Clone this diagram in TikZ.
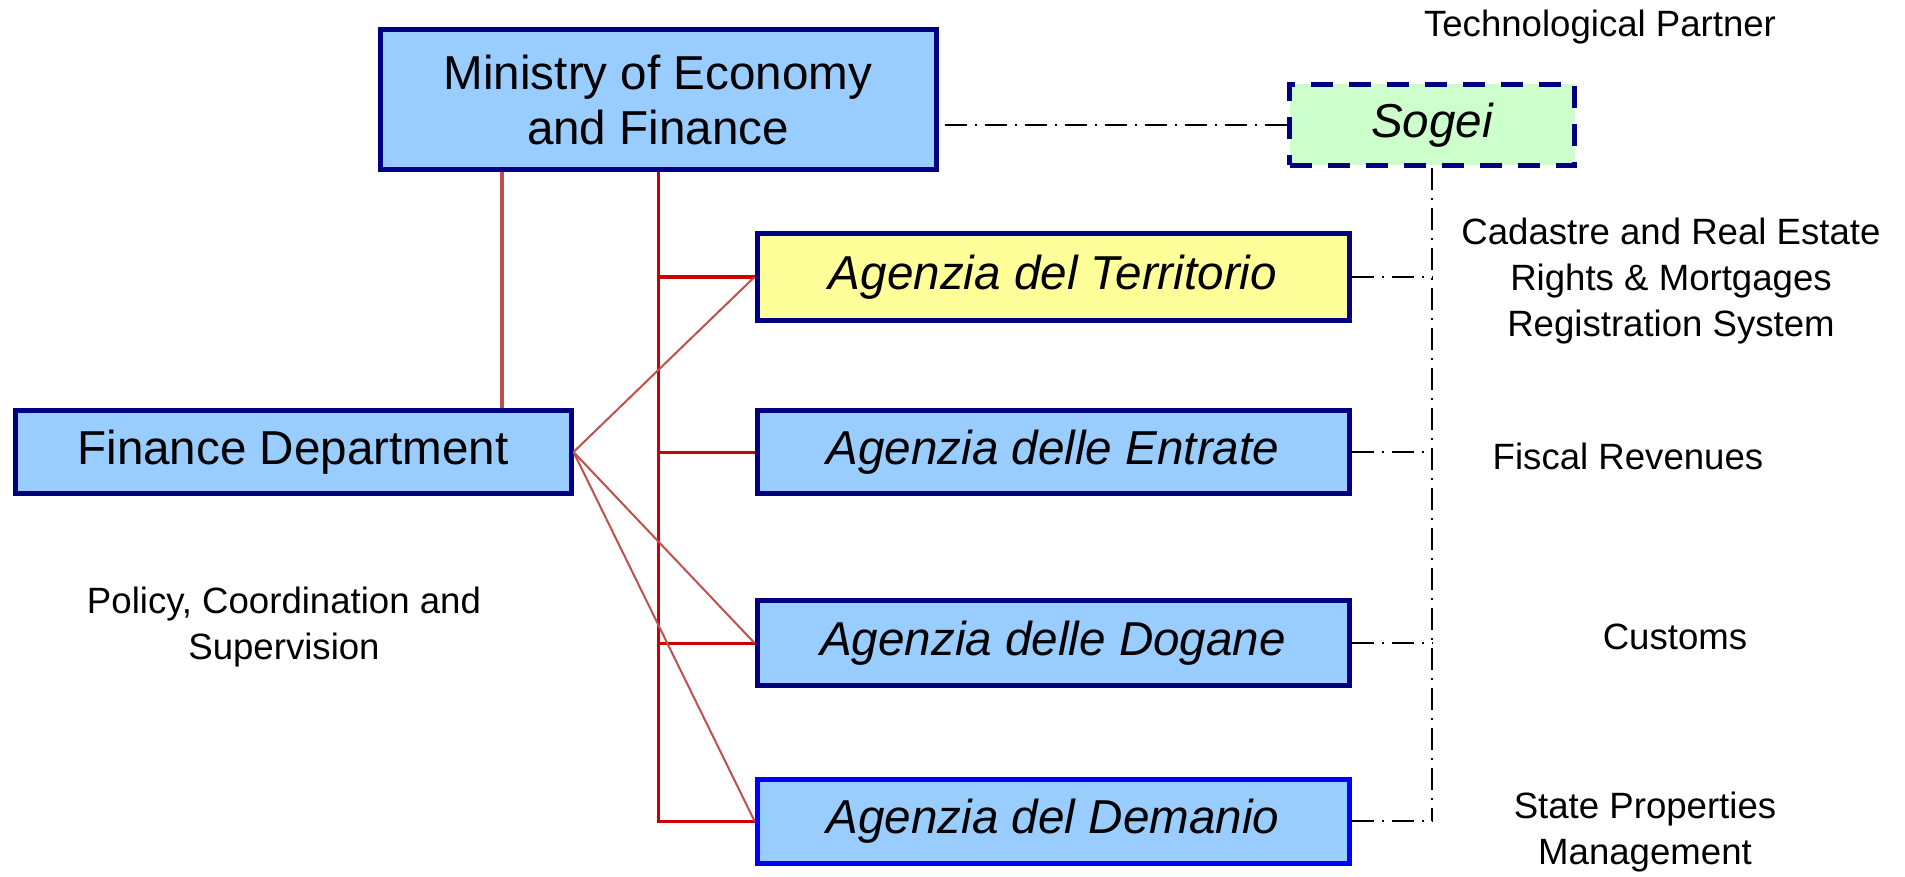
\documentclass[tikz,border=0pt]{standalone}
\usepackage{fontspec}
\setmainfont{Liberation Sans}
\definecolor{boxblue}{HTML}{99CCFF}
\definecolor{navy}{HTML}{000080}
\definecolor{sogfill}{HTML}{CCFFCC}
\definecolor{terfill}{HTML}{FFFF99}
\definecolor{brred}{HTML}{C0504D}
\definecolor{redline}{HTML}{CC0000}
\tikzset{
  orgbox/.style={draw=navy, line width=2.5pt, fill=boxblue, rectangle, inner sep=0pt,
     font=\fontsize{23.8}{27.3}\selectfont, align=center},
  agbox/.style={orgbox, minimum width=296pt, font=\fontsize{23.8}{27.3}\selectfont\itshape},
  lbl/.style={font=\fontsize{18.3}{23}\selectfont, align=center, inner sep=0pt},
  techline/.style={black, line width=1pt, dash pattern=on 11pt off 4pt on 1pt off 4pt},
  diag/.style={brred, line width=1pt},
  redv/.style={redline, line width=1.5pt}
}
\begin{document}
\begin{tikzpicture}[x=0.5pt, y=-0.5pt]
\useasboundingbox (0,0) rectangle (1905,877);
\node[orgbox, minimum width=278pt, minimum height=70pt] (min) at (658,100) {Ministry of Economy\\and Finance};
\node[orgbox, fill=sogfill, dash pattern=on 11pt off 8pt, minimum width=142.5pt, minimum height=40.5pt,
      font=\fontsize{23.8}{27.3}\selectfont\itshape] (sog) at (1432,125) {Sogei};
\node[orgbox, minimum width=278pt, minimum height=41.5pt] (fin) at (293,452) {Finance Department};
\node[agbox, fill=terfill, minimum height=43pt] (ter) at (1053,277) {Agenzia del Territorio};
\node[agbox, minimum height=41.5pt] (ent) at (1053,452) {Agenzia delle Entrate};
\node[agbox, minimum height=42.5pt] (dog) at (1053,643) {Agenzia delle Dogane};
\node[agbox, draw=blue, minimum height=42pt] (dem) at (1053,821) {Agenzia del Demanio};

\node[lbl] (tp) at (1600,27) {Technological Partner};
\node[lbl] (cad) at (1671,281) {Cadastre and Real Estate\\Rights \& Mortgages\\Registration System};
\node[lbl] (fis) at (1628,456) {Fiscal Revenues};
\node[lbl] (cus) at (1675,637) {Customs};
\node[lbl] (spm) at (1645,832) {State Properties\\Management};
\node[lbl] (pol) at (284,627) {Policy, Coordination and\\Supervision};

\coordinate (v1) at (502,0);
\begin{scope}[on background layer/.try]
\draw[brred, line width=2pt] (min.south -| v1) -- (fin.north -| v1);
\draw[redv] (min.south) -- (min.south |- dem.west) -- (dem.west);
\draw[redv] (min.south |- ter.west) -- (ter.west);
\draw[redv] (min.south |- ent.west) -- (ent.west);
\draw[redv] (min.south |- dog.west) -- (dog.west);
\draw[diag] (fin.east) -- (ter.west);
\draw[diag] (fin.east) -- (dog.west);
\draw[diag] (fin.east) -- (dem.west);
\end{scope}

\draw[techline] ([xshift=3pt]min.east |- sog.west) -- (sog.west);
\draw[techline] (sog.south) -- (sog.south |- dem.east);
\draw[techline] (ter.east) -- (sog.south |- ter.east);
\draw[techline] (ent.east) -- (sog.south |- ent.east);
\draw[techline] (dog.east) -- (sog.south |- dog.east);
\draw[techline] (dem.east) -- (sog.south |- dem.east);
\end{tikzpicture}
\end{document}
